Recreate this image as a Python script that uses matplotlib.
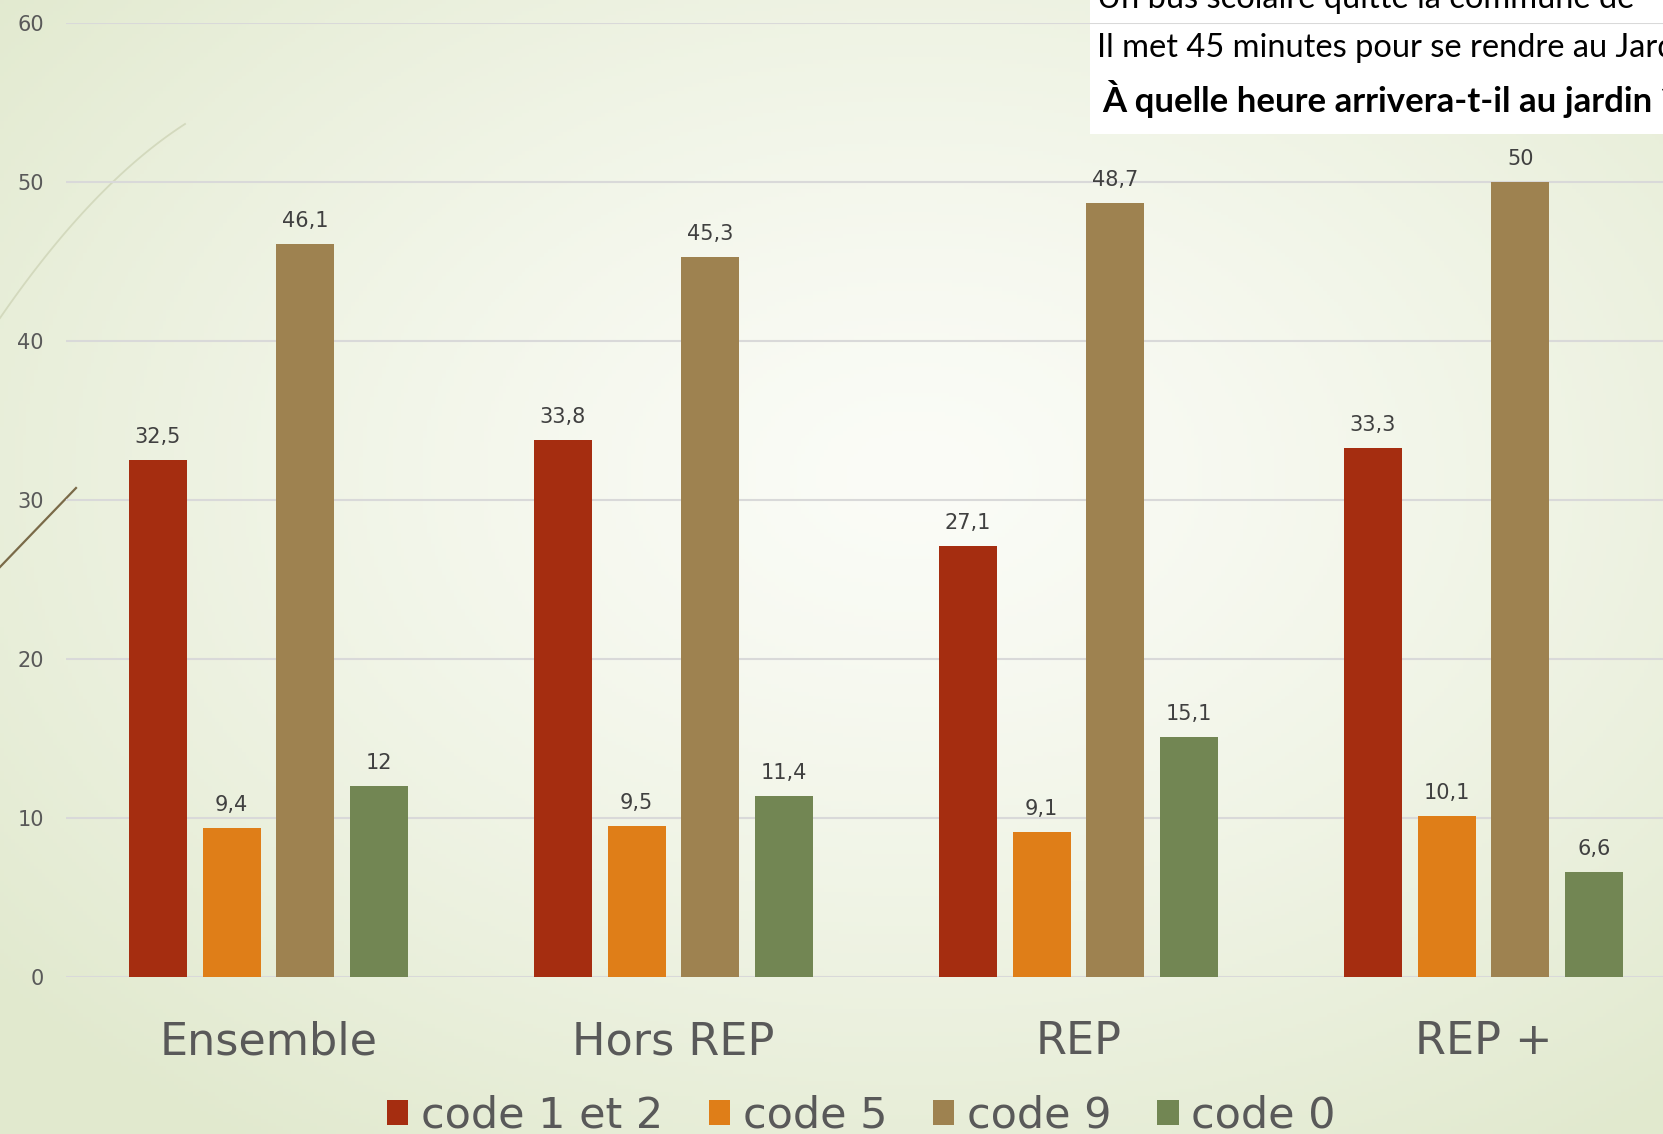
import matplotlib.pyplot as plt
import numpy as np
from matplotlib.lines import Line2D
from matplotlib.patches import Rectangle

# ---- data ---------------------------------------------------------------
categories = ['Ensemble', 'Hors REP', 'REP', 'REP +']
series = ['code 1 et 2', 'code 5', 'code 9', 'code 0']
code_12 = [32.5, 33.8, 27.1, 33.3]
code_5 = [9.4, 9.5, 9.1, 10.1]
code_9 = [46.1, 45.3, 48.7, 50]
code_0 = [12, 11.4, 15.1, 6.6]
values = [code_12, code_5, code_9, code_0]
colors = ['#A52D10', '#DF7E18', '#9E8250', '#728653']

W, H = 1663, 1134
fig = plt.figure(figsize=(W / 100, H / 100), dpi=100)

# ---- slide background: pale green radial gradient -----------------------
bg = fig.add_axes([0, 0, 1, 1], zorder=-10)
yy, xx = np.mgrid[0:1:300j, 0:1:440j]
r = np.sqrt(((xx - 0.55) / 0.72) ** 2 + ((yy - 0.42) / 0.72) ** 2)
r = np.clip(r, 0, 1) ** 1.3
edge = np.array([225, 233, 206]) / 255
centre = np.array([251, 252, 247]) / 255
img = centre[None, None, :] * (1 - r[..., None]) + edge[None, None, :] * r[..., None]
bg.imshow(img, aspect='auto', extent=[0, 1, 0, 1], origin='upper')
bg.set_axis_off()

# decorative strokes on the left edge (light arc + short brown stroke)
cx = np.array([0, 90, 185])
cy = np.array([318, 205, 124])
k = np.polyfit(cx, cy, 2)
xs = np.linspace(0, 185, 50)
fig.add_artist(Line2D(xs / W, 1 - np.polyval(k, xs) / H,
                      color='#d3d9bd', lw=1.3, zorder=-5))
fig.add_artist(Line2D([0, 76 / W], [1 - 567 / H, 1 - 488 / H],
                      color='#7a6a48', lw=1.6, zorder=-5))

# pasted exercise box (top right), cropped by the slide edge
fig.add_artist(Rectangle((1090 / W, 1 - 134 / H), 1 - 1090 / W, 134 / H,
                         transform=fig.transFigure, facecolor='white',
                         edgecolor='none', zorder=-4))
fig.text(1097 / W, 1 - 8 / H, 'Un bus scolaire quitte la commune de',
         family='Lato', fontsize=23.5, color='black', va='baseline', ha='left')
fig.text(1097 / W, 1 - 57 / H, 'Il met 45 minutes pour se rendre au Jardin',
         family='Lato', fontsize=23.5, color='black', va='baseline', ha='left')
fig.text(1102 / W, 1 - 112 / H, 'À quelle heure arrivera-t-il au jardin ?',
         family='Lato', fontsize=25, fontweight='bold', color='black',
         va='baseline', ha='left')

# ---- chart ----------------------------------------------------------------
ax = fig.add_axes([66 / W, 1 - 977 / H, 1 - 66 / W, (977 - 23) / H], zorder=0)
ax.patch.set_alpha(0)

x = np.arange(len(categories))
bw = 0.143
step = 0.182
handles = []
for i, (name, vals, col) in enumerate(zip(series, values, colors)):
    pos = x + (i - 1.5) * step
    b = ax.bar(pos, vals, width=bw, color=col, label=name, zorder=3)
    handles.append(b)
    for px, v in zip(pos, vals):
        ax.annotate(f'{v:g}'.replace('.', ','), (px, v), xytext=(0, 13),
                    textcoords='offset pixels', ha='center', va='bottom',
                    fontsize=15, color='#404040')

ax.set_xlim(-0.5, 3.443)
ax.set_ylim(0, 60)
ax.set_yticks(range(0, 61, 10))
ax.yaxis.grid(True, color='#d9d9d9', lw=1.5, zorder=0)
ax.set_axisbelow(True)
for s in ax.spines.values():
    s.set_visible(False)
ax.set_xticks(x)
ax.set_xticklabels(categories)
ax.tick_params(axis='x', length=0, labelsize=32, labelcolor='#595959', pad=31)
ax.tick_params(axis='y', length=0, labelsize=15, labelcolor='#595959', pad=16)

fig.legend(handles, series, loc='center', bbox_to_anchor=(0.518, 1 - 1116 / H),
           ncol=4, frameon=False, fontsize=31, labelcolor='#595959',
           handlelength=0.5, handleheight=0.5, handletextpad=0.3,
           columnspacing=1.05, borderpad=0)

fig.savefig('out.png', dpi=100)
